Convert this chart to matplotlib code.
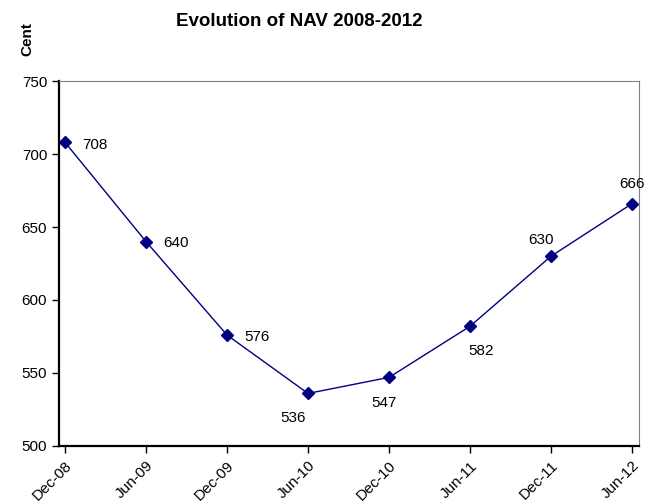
import matplotlib
matplotlib.use("Agg")
import matplotlib.pyplot as plt

plt.rcParams['font.family'] = ['Liberation Sans', 'DejaVu Sans']

# NAV per half year, in cents
periods = ['Dec-08', 'Jun-09', 'Dec-09', 'Jun-10', 'Dec-10', 'Jun-11', 'Dec-11', 'Jun-12']
nav = [708, 640, 576, 536, 547, 582, 630, 666]
# where each value label sits relative to its marker (pixels)
label_offsets = [(30, -3), (30, -1), (30, -2), (-15, -25), (-5, -26), (11, -25), (-10, 16), (0, 20)]

fig = plt.figure(figsize=(6.45, 5.01), dpi=100)
ax = fig.add_axes([0.0915, 0.1098, 0.8992, 0.7285])

x = list(range(len(nav)))
ax.plot(x, nav, color='#000080', lw=1.0, marker='D', markersize=6.5,
        markerfacecolor='#000080', markeredgecolor='#000080')

for xi, v, (dx, dy) in zip(x, nav, label_offsets):
    ax.annotate(str(v), (xi, v), xytext=(dx, dy), textcoords='offset pixels',
                ha='center', va='center', fontsize=11)

ax.set_xlim(-0.074, 7.086)
ax.set_ylim(500, 750)
ax.set_yticks([500, 550, 600, 650, 700, 750])
ax.set_xticks(x)
ax.set_xticklabels(periods, rotation=45, ha='right', rotation_mode='anchor')
ax.tick_params(axis='both', direction='out', length=5, width=1, labelsize=11, colors='black')
ax.tick_params(axis='x', pad=4)

for side in ['left', 'bottom']:
    ax.spines[side].set_linewidth(1.6)
    ax.spines[side].set_color('black')
for side in ['top', 'right']:
    ax.spines[side].set_linewidth(0.8)
    ax.spines[side].set_color('#808080')

fig.text(299 / 645, 1 - 21 / 501, 'Evolution of NAV 2008-2012', ha='center', va='center',
         fontsize=13.5, fontweight='bold')
fig.text(27 / 645, 1 - 39 / 501, 'Cent', ha='center', va='center', rotation=90,
         fontsize=11, fontweight='bold')

fig.savefig('out.png', dpi=100)
